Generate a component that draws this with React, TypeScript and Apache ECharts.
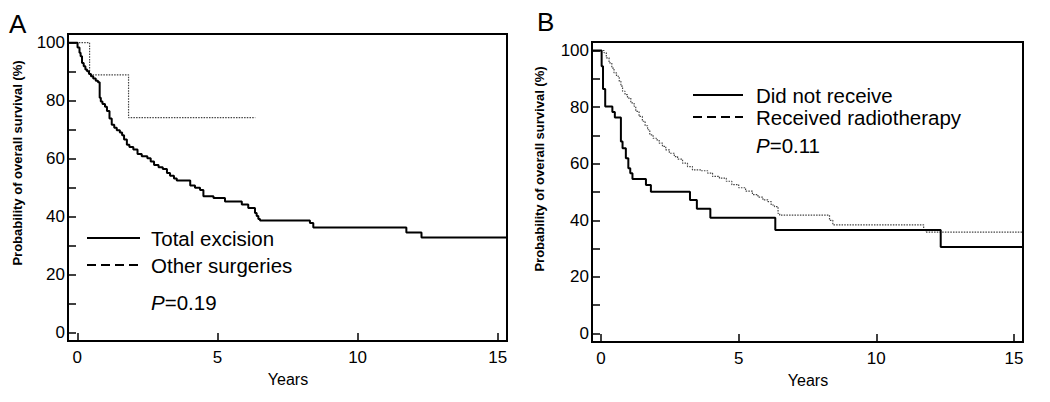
import React, { useEffect, useRef } from "react";
import * as echarts from "echarts";

// ---- Data ----
const xTickValues = [0, 5, 10, 15];
const yTickValues = [0, 10, 20, 30, 40, 50, 60, 70, 80, 90, 100];
const yLabelValues = [0, 20, 40, 60, 80, 100];

// Panel A
const totalExcision: [number, number][] = [
  [-0.33, 100], [0.01, 98.3], [0.08, 96.5], [0.12, 95.3], [0.17, 93.0], [0.23, 91.9],
  [0.29, 90.7], [0.35, 90.1], [0.42, 89.2], [0.49, 88.4], [0.57, 87.6], [0.66, 86.9],
  [0.74, 86.3], [0.8, 81.0], [0.84, 79.7], [0.9, 78.8], [0.99, 77.9], [1.06, 76.4],
  [1.15, 73.8], [1.23, 71.7], [1.32, 70.6], [1.41, 69.8], [1.52, 69.0], [1.6, 68.0],
  [1.67, 66.6], [1.77, 64.8], [1.86, 64.0], [2.0, 63.1], [2.15, 61.6], [2.3, 60.8],
  [2.5, 60.1], [2.62, 59.0], [2.74, 57.8], [2.9, 57.0], [3.05, 56.4], [3.2, 55.0],
  [3.31, 54.1], [3.45, 53.1], [3.55, 52.4], [4.03, 50.7], [4.2, 49.9], [4.38, 49.1],
  [4.5, 47.0], [4.86, 46.4], [5.27, 45.2], [5.87, 44.1], [6.1, 42.9], [6.34, 41.2],
  [6.4, 40.2], [6.46, 39.1], [6.52, 38.6], [8.3, 37.7], [8.42, 36.2], [11.74, 34.5],
  [12.28, 32.7], [15.33, 32.7],
];
const otherSurgeries: [number, number][] = [
  [-0.33, 100], [0.44, 88.9], [1.83, 74.1], [6.35, 74.1],
];

// Panel B
const didNotReceive: [number, number][] = [
  [-0.33, 100], [0.02, 94.4], [0.07, 86.4], [0.15, 80.2], [0.41, 78.3], [0.5, 76.3],
  [0.72, 67.8], [0.78, 65.5], [0.9, 61.9], [0.99, 58.4], [1.06, 56.6], [1.14, 54.6],
  [1.63, 52.5], [1.81, 50.1], [3.23, 47.2], [3.48, 44.1], [3.97, 40.9], [6.33, 36.6],
  [12.34, 30.6], [15.33, 30.6],
];
const receivedRadiotherapy: [number, number][] = [
  [-0.33, 100], [0.11, 99.2], [0.19, 97.4], [0.29, 95.6], [0.39, 93.8], [0.47, 92.1],
  [0.56, 90.9], [0.66, 89.1], [0.72, 87.4], [0.78, 85.6], [0.87, 84.4], [0.96, 83.2],
  [1.08, 81.5], [1.2, 80.3], [1.26, 78.5], [1.38, 76.7], [1.5, 75.0], [1.6, 73.4],
  [1.69, 72.0], [1.77, 70.2], [1.89, 69.0], [2.01, 68.4], [2.11, 67.3], [2.23, 66.1],
  [2.35, 64.9], [2.48, 63.7], [2.66, 62.5], [2.78, 61.6], [2.96, 60.2], [3.14, 59.0],
  [3.32, 57.8], [3.63, 57.5], [3.87, 56.7], [4.05, 55.5], [4.3, 54.9], [4.55, 53.8],
  [4.75, 52.6], [5.0, 51.5], [5.25, 50.3], [5.5, 49.1], [5.7, 48.2], [5.88, 47.2],
  [6.06, 46.6], [6.18, 45.4], [6.3, 44.8], [6.43, 42.4], [6.49, 41.8], [8.3, 40.0],
  [8.42, 38.4], [11.72, 36.4], [11.8, 35.8], [15.33, 35.8],
];

const FONT = "Arial, 'Liberation Sans', Helvetica, sans-serif";
const TICK_FONT = 17;
const LEGEND_FONT = 20.5;

function makeX(gridIndex: number) {
  return {
    type: "value",
    gridIndex,
    min: -0.33,
    max: 15.33,
    axisLine: { show: true, onZero: false, lineStyle: { color: "#000", width: 2 } },
    axisTick: {
      show: true,
      inside: true,
      length: 8,
      customValues: xTickValues,
      lineStyle: { color: "#000", width: 1.5 },
    },
    axisLabel: {
      show: true,
      customValues: xTickValues,
      color: "#000",
      fontSize: TICK_FONT,
      fontFamily: FONT,
      margin: 8,
    },
    splitLine: { show: false },
  };
}

function makeY(gridIndex: number) {
  return {
    type: "value",
    gridIndex,
    min: -3,
    max: 103,
    axisLine: { show: true, onZero: false, lineStyle: { color: "#000", width: 2 } },
    axisTick: {
      show: true,
      inside: true,
      length: 8,
      customValues: yTickValues,
      lineStyle: { color: "#000", width: 1.5 },
    },
    axisLabel: {
      show: true,
      customValues: yLabelValues,
      color: "#000",
      fontSize: TICK_FONT,
      fontFamily: FONT,
      margin: 3,
    },
    splitLine: { show: false },
  };
}

function text(x: number, y: number, t: string, size: number, extra: any = {}) {
  return {
    type: "text",
    x,
    y,
    style: {
      text: t,
      fontSize: size,
      fontFamily: FONT,
      fill: "#000",
      textVerticalAlign: "middle",
      ...extra,
    },
  };
}

function legendLine(x1: number, x2: number, y: number, dashed: boolean) {
  return {
    type: "line",
    shape: { x1, y1: y, x2, y2: y },
    style: { stroke: "#000", lineWidth: 2, lineDash: dashed ? [9, 5] : null },
  };
}

function yTitle(x: number, y: number) {
  return {
    type: "text",
    x,
    y,
    rotation: Math.PI / 2,
    style: {
      text: "Probability of overall survival (%)",
      fontSize: 13,
      fontWeight: "bold",
      fontFamily: FONT,
      fill: "#000",
      textAlign: "center",
      textVerticalAlign: "middle",
    },
  };
}

export default function App() {
  const ref = useRef<HTMLDivElement>(null);

  useEffect(() => {
    if (!ref.current) return;
    const chart = echarts.init(ref.current, null, { renderer: "svg" });
    const solid = { color: "#000", width: 2 };
    const dotted = { color: "#444", width: 1.2, type: [1.5, 1.2] };
    const italicP = { i: { fontStyle: "italic", fontSize: LEGEND_FONT, fontFamily: FONT, fill: "#000" } };
    chart.setOption({
      animation: false,
      backgroundColor: "#fff",
      grid: [
        { left: 68, top: 34, width: 439, height: 307, show: true, borderColor: "#000", borderWidth: 2 },
        { left: 592, top: 42, width: 431, height: 300, show: true, borderColor: "#000", borderWidth: 2 },
      ],
      xAxis: [makeX(0), makeX(1)],
      yAxis: [makeY(0), makeY(1)],
      series: [
        { name: "Other surgeries", type: "line", step: "end", xAxisIndex: 0, yAxisIndex: 0, symbol: "none", data: otherSurgeries, lineStyle: dotted },
        { name: "Total excision", type: "line", step: "end", xAxisIndex: 0, yAxisIndex: 0, symbol: "none", data: totalExcision, lineStyle: solid },
        { name: "Received radiotherapy", type: "line", step: "end", xAxisIndex: 1, yAxisIndex: 1, symbol: "none", data: receivedRadiotherapy, lineStyle: dotted },
        { name: "Did not receive", type: "line", step: "end", xAxisIndex: 1, yAxisIndex: 1, symbol: "none", data: didNotReceive, lineStyle: solid },
      ],
      graphic: [
        text(9, 24, "A", 26),
        text(537, 22, "B", 26),
        yTitle(17, 163),
        yTitle(539, 169),
        text(288, 379, "Years", 16, { textAlign: "center" }),
        text(808, 380, "Years", 16, { textAlign: "center" }),
        legendLine(87, 140, 238, false),
        legendLine(87, 140, 265, true),
        text(151, 238, "Total excision", LEGEND_FONT),
        text(151, 265, "Other surgeries", LEGEND_FONT),
        text(151, 302, "{i|P}=0.19", LEGEND_FONT, { rich: italicP }),
        legendLine(693, 743, 95, false),
        legendLine(693, 743, 117, true),
        text(756, 95, "Did not receive", LEGEND_FONT),
        text(756, 117, "Received radiotherapy", LEGEND_FONT),
        text(756, 145, "{i|P}=0.11", LEGEND_FONT, { rich: italicP }),
      ],
    });
    return () => chart.dispose();
  }, []);

  return (
    <div
      ref={ref}
      style={{ position: "fixed", left: 0, top: 0, width: 1050, height: 402, background: "#fff" }}
    />
  );
}
